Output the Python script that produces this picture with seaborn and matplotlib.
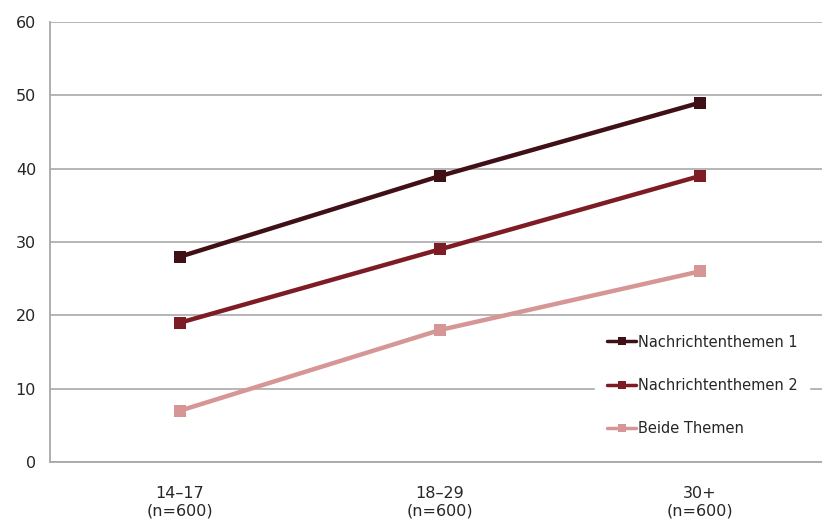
import pandas as pd
import seaborn as sns
import matplotlib.pyplot as plt

# Daten
altersgruppen = ["14–17\n(n=600)", "18–29\n(n=600)", "30+\n(n=600)"]
themen_1 = [28, 39, 49]
themen_2 = [19, 29, 39]
beide = [7, 18, 26]
serien = ["Nachrichtenthemen 1", "Nachrichtenthemen 2", "Beide Themen"]
farben = ["#3f1016", "#7d1c24", "#d69696"]

df = pd.DataFrame({
    "gruppe": altersgruppen * 3,
    "wert": themen_1 + themen_2 + beide,
    "serie": [s for s in serien for _ in altersgruppen],
})

sns.set_style("white")
plt.rcParams["font.family"] = ["DejaVu Sans"]

fig = plt.figure(figsize=(8.22, 5.19), dpi=100)
ax = fig.add_axes([50 / 822, 1 - 462 / 519, 780 / 822, 440 / 519])

sns.lineplot(data=df, x="gruppe", y="wert", hue="serie", hue_order=serien,
             palette=farben, style="serie", markers=["s", "s", "s"], dashes=False,
             linewidth=3.2, markersize=9, markeredgewidth=0, ax=ax, sort=False)

ax.set_xlim(-0.5, 2.5)
ax.set_ylim(0, 60)
ax.set_yticks(range(0, 61, 10))
ax.yaxis.grid(True, color="#b0b0b0", linewidth=1.3)
ax.set_axisbelow(True)
for s in ["top", "right"]:
    ax.spines[s].set_visible(False)
for s in ["left", "bottom"]:
    ax.spines[s].set_color("#a8a8a8")
    ax.spines[s].set_linewidth(1.3)

ax.set_xticks([0, 1, 2])
ax.set_xticklabels(altersgruppen, fontsize=11.5, linespacing=1.2)
ax.set_xticks([0.5, 1.5], minor=True)
ax.tick_params(axis="x", which="major", length=0, pad=17)
ax.tick_params(axis="x", which="minor", length=5, color="#a8a8a8", width=1)
ax.tick_params(axis="y", length=6, color="#b0b0b0", width=1.3, labelsize=11.5, pad=4)
ax.set_xlabel("")
ax.set_ylabel("")

leg = ax.legend(loc="lower left", bbox_to_anchor=(0.69, 0.015), frameon=True,
                fontsize=10.5, handlelength=2.0, handletextpad=0.1,
                labelspacing=1.95, borderpad=0.8)
leg.get_frame().set_edgecolor("white")
leg.get_frame().set_facecolor("white")
leg.get_frame().set_alpha(1)
for h in leg.legend_handles:
    h.set_linewidth(2.5)
    h.set_markersize(6)

fig.savefig("out.png", dpi=100)
